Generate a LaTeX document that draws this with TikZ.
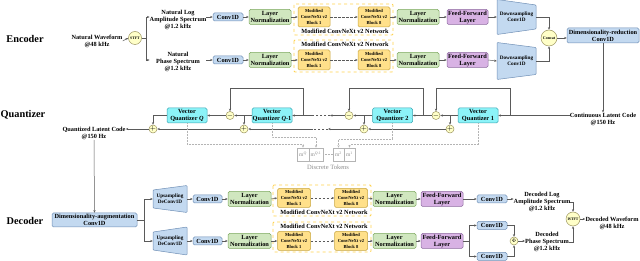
\documentclass[tikz,border=0pt]{standalone}
\usepackage{fontspec}
\setmainfont{Liberation Serif}
\usetikzlibrary{arrows.meta, calc}
\definecolor{cvfill}{HTML}{C3D9F0}
\definecolor{cvline}{HTML}{6F8FB5}
\definecolor{lnfill}{HTML}{D0E7BF}
\definecolor{lnline}{HTML}{7DA85E}
\definecolor{bkfill}{HTML}{FFE08A}
\definecolor{bkline}{HTML}{C9A640}
\definecolor{netline}{HTML}{FFD24D}
\definecolor{fffill}{HTML}{D8B2E4}
\definecolor{ffline}{HTML}{8E6AA0}
\definecolor{vqfill}{HTML}{8CF3F8}
\definecolor{vqline}{HTML}{3AA6B3}
\definecolor{opfill}{HTML}{FFFFC8}
\definecolor{opline}{HTML}{9C9560}
\definecolor{wire}{HTML}{5A5A5A}
\definecolor{tok}{HTML}{B4B4B4}
\newcommand{\fs}[2]{\fontsize{#1}{#2}\selectfont}
% trapezoid box: name, cx, cy, half width, left half height, right half height, text
\newcommand{\trapnode}[7]{%
  \draw[trap] ({#2-#4},{#3-#5}) -- ({#2+#4},{#3-#6}) -- ({#2+#4},{#3+#6}) -- ({#2-#4},{#3+#5}) -- cycle;
  \node[minimum width={2*#4}, minimum height=8, font=\bfseries\fs{5.2}{6.2}] (#1) at (#2,#3) {#7};}

\begin{document}
\begin{tikzpicture}[x=1pt, y=-1pt,
  every node/.style={font=\bfseries\fs{6.3}{7}, align=center, inner sep=0pt},
  >={Stealth[length=2.6pt,width=2.2pt]},
  flow/.style={draw=wire, line width=0.5pt},
  box/.style={draw, rounded corners=1.5pt, line width=0.5pt},
  conv/.style={box, fill=cvfill, draw=cvline, minimum width=30, minimum height=8},
  lnorm/.style={box, fill=lnfill, draw=lnline, minimum width=42, minimum height=15},
  ffl/.style={box, fill=fffill, draw=ffline, minimum width=41, minimum height=15},
  blk/.style={box, fill=bkfill, draw=bkline, minimum width=32, minimum height=20, font=\bfseries\fs{4.6}{5.9}},
  net/.style={draw=netline, dashed, line width=0.9pt, rounded corners=1pt},
  vq/.style={box, fill=vqfill, draw=vqline, minimum width=40, minimum height=15},
  op/.style={circle, draw=opline, fill=opfill, line width=0.5pt},
  trap/.style={fill=cvfill, draw=cvline, line width=0.5pt, rounded corners=0.8pt},
  tokbox/.style={draw=tok, line width=0.5pt, minimum height=13, font=\fs{5.5}{6}, text=black!45},
  tokwire/.style={draw=tok, densely dotted, line width=0.5pt},
  sect/.style={font=\bfseries\fs{10.3}{12}}]
\useasboundingbox (0,0) rectangle (640,261);
% section titles
\node[sect] (tEnc) at (25,39) {Encoder};
\node[sect] (tQnt) at (23,115) {Quantizer};
\node[sect] (tDec) at (25,221) {Decoder};
% encoder input and STFT
\node (wavin) at (97,41) {Natural Waveform\\@48 kHz};
\node[op, minimum size=13, font=\bfseries\fs{3.8}{4}] (stft) at (135,38) {STFT};
\coordinate (sA) at (146,38);
\node (amp) at (178,20) {Natural Log\\Amplitude Spectrum\\@1.2 kHz};
\node (pha) at (178,62) {Natural\\Phase Spectrum\\@1.2 kHz};
% encoder amplitude branch
\node[conv] (cvA) at (228,17) {Conv1D};
\node[lnorm] (lnA1) at (270,17) {Layer\\Normalization};
\draw[net] (294,4) rectangle (393,35);
\node (netA) at (345,31.5) {Modified ConvNeXt v2 Network};
\node[blk] (bkA1) at (314,17) {Modified\\ConvNeXt v2\\Block 1};
\node[blk] (bkA8) at (374,17) {Modified\\ConvNeXt v2\\Block 8};
\node[lnorm] (lnA2) at (418,17) {Layer\\Normalization};
\node[ffl] (ffA) at (467.5,17) {Feed-Forward\\Layer};
\trapnode{dsA}{516.5}{17}{19.5}{17.5}{12}{Downsampling\\Conv1D}
% encoder phase branch
\node[conv] (cvB) at (228,60) {Conv1D};
\node[lnorm] (lnB1) at (270,60) {Layer\\Normalization};
\draw[net] (294,40) rectangle (393,72);
\node (netB) at (345,44.5) {Modified ConvNeXt v2 Network};
\node[blk] (bkB1) at (314,60) {Modified\\ConvNeXt v2\\Block 1};
\node[blk] (bkB8) at (374,60) {Modified\\ConvNeXt v2\\Block 8};
\node[lnorm] (lnB2) at (418,60) {Layer\\Normalization};
\node[ffl] (ffB) at (467.5,60) {Feed-Forward\\Layer};
\trapnode{dsB}{516.5}{61}{19.5}{18.5}{13.5}{Downsampling\\Conv1D}
% concat and reduction
\node[op, minimum size=16, font=\bfseries\fs{4}{4}] (concat) at (549,38) {Concat};
\node[conv, minimum width=72, minimum height=15] (dimred) at (603,35.5) {Dimensionality-reduction\\Conv1D};
\node (contlat) at (603,119) {Continuous Latent Code\\@150 Hz};
\draw[flow] (stft.east) -- (sA);
\draw[flow,->] (wavin.east) -- (stft.west);
\draw[flow,->] (sA) |- (amp.west |- cvA);
\draw[flow,->] (sA) |- (amp.west |- cvB);
\draw[flow,->] (amp.east |- cvA) -- (cvA.west);
\draw[flow,->] (amp.east |- cvB) -- (cvB.west);
\foreach \a/\b in {cvA/lnA1, lnA1/bkA1, bkA8/lnA2, lnA2/ffA, ffA/dsA, cvB/lnB1, lnB1/bkB1, bkB8/lnB2, lnB2/ffB, ffB/dsB}
  \draw[flow,->] (\a.east) -- (\b.west);
\draw[flow,->,dash pattern=on 2.5pt off 1.5pt] (bkA1.east) -- (bkA8.west);
\draw[flow,->,dash pattern=on 2.5pt off 1.5pt] (bkB1.east) -- (bkB8.west);
\draw[flow,->] (dsA.east) -| (concat.north);
\draw[flow,->] (dsB.east) -| (concat.south);
\draw[flow,->] (concat.east) -- (concat.east -| dimred.west);
\draw[flow,->] (dimred.south) -- (contlat.north);
% quantizer
\node[vq] (vq1) at (478,115.5) {Vector\\Quantizer 1};
\node[vq] (vq2) at (392.5,115.5) {Vector\\Quantizer 2};
\node[vq] (vqP) at (272,115.5) {Vector\\Quantizer \textit{Q}-1};
\node[vq] (vqQ) at (187,115.5) {Vector\\Quantizer \textit{Q}};
\node[op, minimum size=7, font=\fs{7}{7}] (mi1) at (436,115.5) {$-$};
\node[op, minimum size=7, font=\fs{7}{7}] (mi2) at (349,115.5) {$-$};
\node[op, minimum size=7, font=\fs{7}{7}] (mi3) at (230,115.5) {$-$};
\node[op, minimum size=7, font=\fs{7}{7}] (pl1) at (450,129) {$+$};
\node[op, minimum size=7, font=\fs{7}{7}] (pl2) at (364,129) {$+$};
\node[op, minimum size=7, font=\fs{7}{7}] (pl3) at (244,129) {$+$};
\node[op, minimum size=7, font=\fs{7}{7}] (plQ) at (153,129) {$+$};
\node (qout) at (94,133.5) {Quantized Latent Code\\@150 Hz};
\coordinate (loop) at (0,88);
\coordinate (b1) at (510,115.5);
\coordinate (b2) at (423,115.5);
\coordinate (b3) at (303,115.5);
\coordinate (gA) at (330,115.5);
\coordinate (gB) at (313,115.5);
\coordinate (gC) at (328,129);
\coordinate (gD) at (313,129);
% residual chain
\draw[flow,->] (vq1.east -| contlat.west) -- (vq1.east);
\draw[flow,->] (vq1.west) -- (mi1.east);
\draw[flow,->] (mi1.west) -- (vq2.east);
\draw[flow,->] (vq2.west) -- (mi2.east);
\draw[flow,->] (mi2.west) -- (gA);
\draw[flow,dash pattern=on 2.5pt off 1.5pt] (gA) -- (gB);
\draw[flow,->] (gB) -- (vqP.east);
\draw[flow,->] (vqP.west) -- (mi3.east);
\draw[flow,->] (mi3.west) -- (vqQ.east);
\draw[flow,->] (b1) -- (b1 |- loop) -| (mi1.north);
\draw[flow,->] (b2) -- (b2 |- loop) -| (mi2.north);
\draw[flow,->] (b3) -- (b3 |- loop) -| (mi3.north);
% sum chain
\draw[flow,->] (vq1.west -| pl1) -- (pl1.north);
\draw[flow,->] (vq2.west -| pl2) -- (pl2.north);
\draw[flow,->] (vqP.west -| pl3) -- (pl3.north);
\draw[flow,->] (vqQ.west) -| (plQ.north);
\draw[flow,->] (pl1.west) -- (pl2.east);
\draw[flow,->] (pl2.west) -- (gC);
\draw[flow,dash pattern=on 2.5pt off 1.5pt] (gC) -- (gD);
\draw[flow,->] (gD) -- (pl3.east);
\draw[flow,->] (pl3.west) -- (plQ.east);
\draw[flow,->] (plQ.west) -- (qout.east |- plQ);
% discrete tokens
\node[tokbox, minimum width=12] (tQ) at (303,154.5) {m\textsuperscript{\textit{Q}}};
\node[tokbox, minimum width=14] (tP) at (316,154.5) {m\textsuperscript{\textit{Q}-1}};
\node[tokbox, minimum width=11] (t2) at (338.5,154.5) {m\textsuperscript{2}};
\node[tokbox, minimum width=11] (t1) at (349.5,154.5) {m\textsuperscript{1}};
\node[font=\fs{6.5}{7}, text=black!45] (toklbl) at (328,167) {Discrete Tokens};
\draw[tokwire] (tP.east) -- (t2.west);
\draw[tokwire,->] (vqQ.south) -- ++(0,21) -| (tQ.north);
\draw[tokwire,->] (vqP.south) -- ++(0,14) -| (tP.north);
\draw[tokwire,->] (vq2.south) -- ++(0,16) -| (t2.north);
\draw[tokwire,->] (vq1.south) -- ++(0,21.5) -| (t1.north);
% decoder
\node[conv, minimum width=85, minimum height=14] (dimaug) at (94.5,220) {Dimensionality-augmentation\\Conv1D};
\coordinate (sD) at (144,220);
\trapnode{usA}{170}{199}{17}{9}{13.5}{Upsampling\\DeConv1D}
\trapnode{usB}{170}{241}{17}{9}{14}{Upsampling\\DeConv1D}
\node[conv, minimum width=29] (cvC) at (207.5,199) {Conv1D};
\node[lnorm, minimum width=43] (lnC1) at (249.5,199) {Layer\\Normalization};
\draw[net] (273,185) rectangle (371,216);
\node (netC) at (324,212.5) {Modified ConvNeXt v2 Network};
\node[blk, minimum width=33, minimum height=19] (bkC1) at (294,198) {Modified\\ConvNeXt v2\\Block 1};
\node[blk, minimum width=33, minimum height=19] (bkC8) at (351,198) {Modified\\ConvNeXt v2\\Block 8};
\node[lnorm, minimum width=43] (lnC2) at (394.5,199) {Layer\\Normalization};
\node[ffl, minimum width=42] (ffC) at (442,199) {Feed-Forward\\Layer};
\node[conv] (cvE) at (492,199) {Conv1D};
\node[conv, minimum width=29] (cvD) at (207.5,241) {Conv1D};
\node[lnorm, minimum width=43] (lnD1) at (249.5,241) {Layer\\Normalization};
\draw[net] (273,222) rectangle (371,252);
\node (netD) at (324,226.5) {Modified ConvNeXt v2 Network};
\node[blk, minimum width=33, minimum height=19] (bkD1) at (294,241) {Modified\\ConvNeXt v2\\Block 1};
\node[blk, minimum width=33, minimum height=19] (bkD8) at (351,241) {Modified\\ConvNeXt v2\\Block 8};
\node[lnorm, minimum width=43] (lnD2) at (394.5,241) {Layer\\Normalization};
\node[ffl, minimum width=42] (ffD) at (442,241) {Feed-Forward\\Layer};
\coordinate (sE) at (469,241);
\node[conv] (cvF) at (492,225.5) {Conv1D};
\node[conv] (cvG) at (492,256.5) {Conv1D};
\node[op, minimum size=8, font=\fs{5}{5}] (phi) at (514,241) {$\Phi$};
\node (ampout) at (542,202) {Decoded Log\\Amplitude Spectrum\\@1.2 kHz};
\node (phaout) at (547,242) {Decoded\\Phase Spectrum\\@1.2 kHz};
\node[op, minimum size=14, font=\bfseries\fs{3.8}{4}] (istft) at (573,219) {ISTFT};
\node (wavout) at (612,223) {Decoded Waveform\\@48 kHz};
\draw[flow,->] (qout.south) -- (dimaug.north);
\draw[flow] (dimaug.east) -- (sD);
\draw[flow,->] (sD) |- (usA.west);
\draw[flow,->] (sD) |- (usB.west);
\foreach \a/\b in {usA/cvC, cvC/lnC1, lnC1/bkC1, bkC8/lnC2, lnC2/ffC, ffC/cvE, usB/cvD, cvD/lnD1, lnD1/bkD1, bkD8/lnD2, lnD2/ffD}
  \draw[flow,->] (\a.east) -- (\b.west);
\draw[flow,->,dash pattern=on 2.5pt off 1.5pt] (bkC1.east) -- (bkC8.west);
\draw[flow,->,dash pattern=on 2.5pt off 1.5pt] (bkD1.east) -- (bkD8.west);
\draw[flow] (ffD.east) -- (sE);
\draw[flow,->] (sE) |- (cvF.west);
\draw[flow,->] (sE) |- (cvG.west);
\draw[flow,->] (cvF.east) -| (phi.north);
\draw[flow,->] (cvG.east) -| (phi.south);
\draw[flow,->] (phi.east) -- (phi.east -| phaout.west);
\draw[flow,->] (cvE.east) -- (cvE.east -| ampout.west);
\draw[flow,->] (ampout.east) -| (istft.north);
\draw[flow,->] (phaout.east) -| (istft.south);
\draw[flow,->] (istft.east) -- (istft.east -| wavout.west);
\end{tikzpicture}
\end{document}
